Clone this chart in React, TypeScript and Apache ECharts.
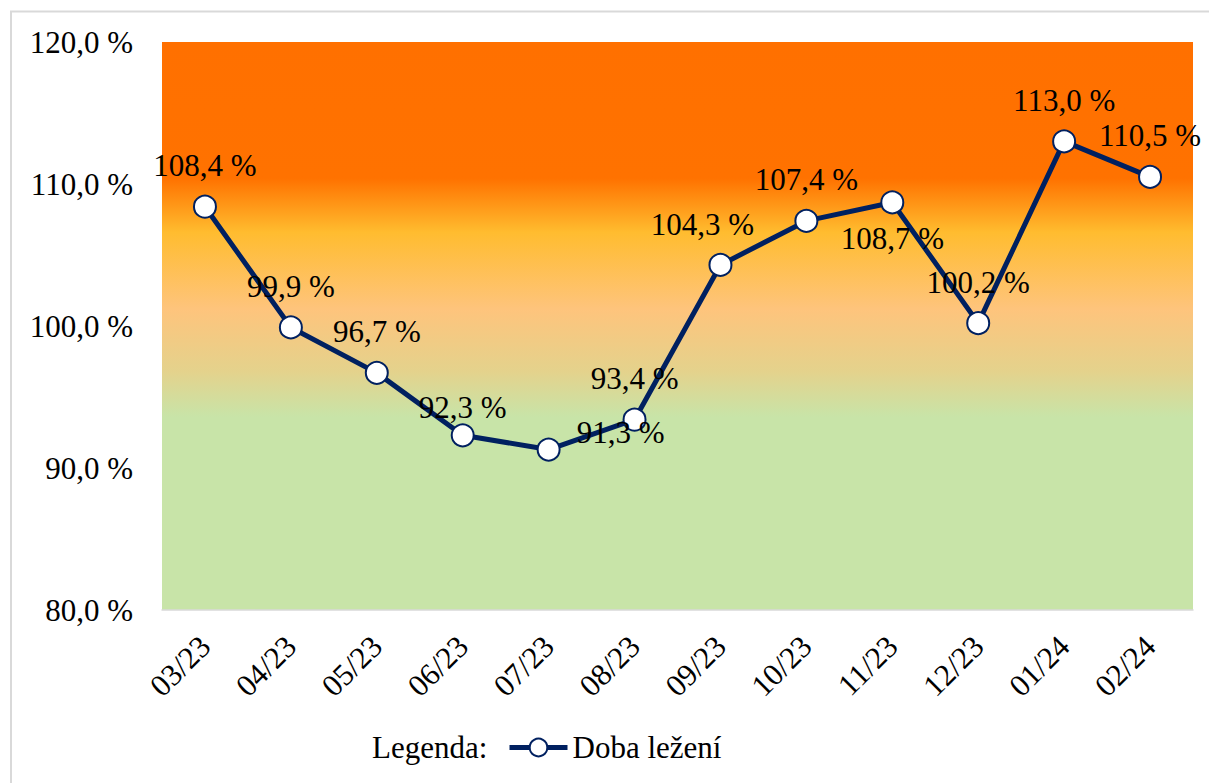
import React, { useEffect, useRef } from "react";
import * as echarts from "echarts";

const categories = ["03/23", "04/23", "05/23", "06/23", "07/23", "08/23", "09/23", "10/23", "11/23", "12/23", "01/24", "02/24"];
const values = [108.4, 99.9, 96.7, 92.3, 91.3, 93.4, 104.3, 107.4, 108.7, 100.2, 113.0, 110.5];
const seriesName = "Doba ležení";
const legendTitle = "Legenda:";
const yMin = 80;
const yMax = 120;
const yStep = 10;

const FONT = "Liberation Serif";
const FS = 31;
const NAVY = "#002060";

const fmt = (v: number) => v.toFixed(1).replace(".", ",") + " %";

export default function App() {
  const ref = useRef<HTMLDivElement>(null);
  useEffect(() => {
    if (!ref.current) return;
    const chart = echarts.init(ref.current, undefined, { renderer: "svg" });
    const labelOffsets: Record<number, [number, number]> = {
      3: [0, -28],
      4: [72, -17],
      6: [-18, -40],
      8: [0, 36],
    };
    const data = values.map((v, i) => ({
      value: v,
      label: {
        offset: labelOffsets[i] || [0, -41],
      },
    }));
    chart.setOption({
      animation: false,
      backgroundColor: "#ffffff",
      textStyle: { fontFamily: FONT },
      grid: {
        left: 162,
        right: 16,
        top: 42,
        bottom: 173,
        show: true,
        borderWidth: 0,
        backgroundColor: new echarts.graphic.LinearGradient(0, 0, 0, 1, [
          { offset: 0, color: "#FF7000" },
          { offset: 0.24, color: "#FF7200" },
          { offset: 0.335, color: "#FFBC2F" },
          { offset: 0.47, color: "#FEC47C" },
          { offset: 0.58, color: "#E4D28C" },
          { offset: 0.66, color: "#C8E4A8" },
          { offset: 1, color: "#C8E4A8" },
        ]),
      },
      graphic: [
        {
          type: "rect",
          shape: { x: 11, y: 11.5, width: 1400, height: 1000 },
          style: { fill: "none", stroke: "#D9D9D9", lineWidth: 2 },
          silent: true,
        },
        {
          type: "text",
          left: 372,
          top: 732,
          style: { text: legendTitle, fill: "#000", fontFamily: FONT, fontSize: FS },
        },
      ],
      legend: {
        show: true,
        left: 507,
        top: 732,
        padding: 0,
        itemWidth: 58,
        itemHeight: 22,
        itemGap: 5,
        lineStyle: { width: 5, color: NAVY },
        textStyle: { fontFamily: FONT, fontSize: FS, color: "#000" },
        data: [seriesName],
      },
      xAxis: {
        type: "category",
        data: categories,
        boundaryGap: true,
        axisLine: { show: true, lineStyle: { color: "#D9D9D9", width: 1.5 } },
        axisTick: { show: false },
        axisLabel: {
          rotate: 45,
          interval: 0,
          margin: 31,
          color: "#000",
          fontFamily: FONT,
          fontSize: FS,
        },
        splitLine: { show: false },
      },
      yAxis: {
        type: "value",
        min: yMin,
        max: yMax,
        interval: yStep,
        axisLine: { show: false },
        axisTick: { show: false },
        splitLine: { show: false },
        axisLabel: {
          margin: 29,
          color: "#000",
          fontFamily: FONT,
          fontSize: FS,
          formatter: (v: number) => fmt(v),
        },
      },
      series: [
        {
          name: seriesName,
          type: "line",
          data,
          symbol: "circle",
          symbolSize: 22,
          lineStyle: { color: NAVY, width: 5 },
          itemStyle: { color: "#ffffff", borderColor: NAVY, borderWidth: 2 },
          label: {
            show: true,
            position: "inside",
            color: "#000",
            fontFamily: FONT,
            fontSize: FS,
            formatter: (p: any) => fmt(p.value),
          },
          z: 5,
        },
      ],
    });
    return () => chart.dispose();
  }, []);
  return (
    <div
      ref={ref}
      style={{ position: "absolute", left: 0, top: 0, width: 1209, height: 783 }}
    />
  );
}
